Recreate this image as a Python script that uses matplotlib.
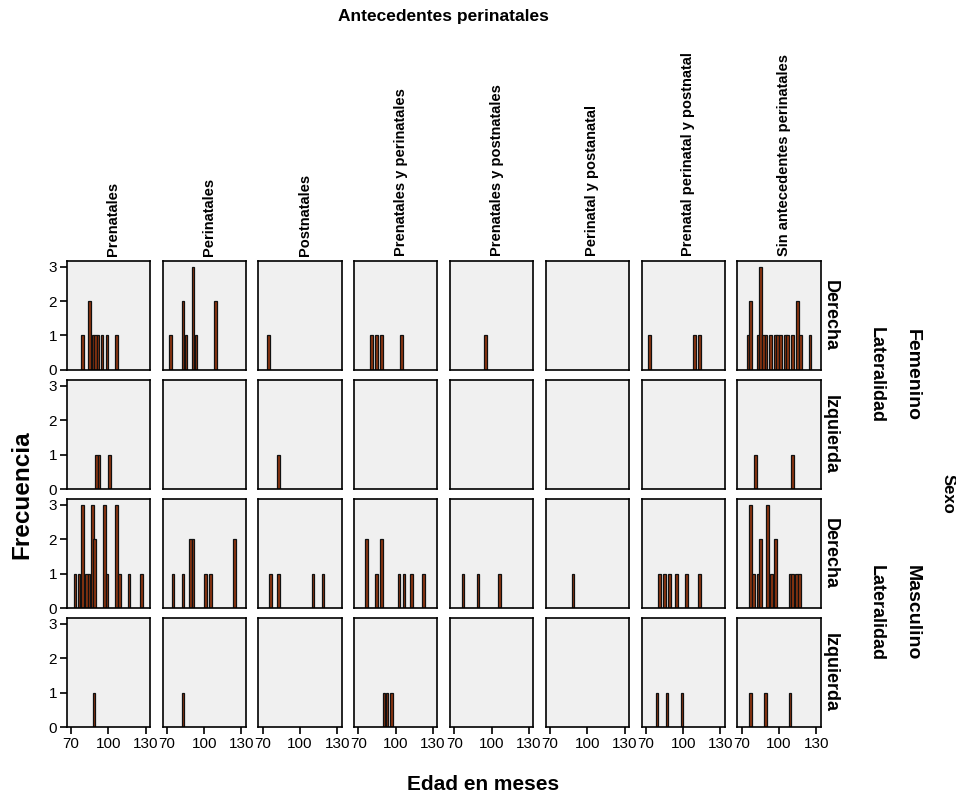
import numpy as np
import matplotlib
matplotlib.use("Agg")
import matplotlib.pyplot as plt

plt.rcParams['font.family'] = ['Liberation Sans', 'DejaVu Sans']

# column / row categories
antecedentes = ['Prenatales', 'Perinatales', 'Postnatales', 'Prenatales y perinatales',
                'Prenatales y postnatales', 'Perinatal y postanatal',
                'Prenatal perinatal y postnatal', 'Sin antecedentes perinatales']
lateralidad = ['Derecha', 'Izquierda']
sexo = ['Femenino', 'Masculino']

# edad (meses) de cada barra y su frecuencia, una lista por panel
fem_der_edad = [[79, 85, 87.5, 89.5, 91.5, 95, 99, 106.5],
                [73, 83, 85.5, 91, 93.5, 109],
                [74.5],
                [80.5, 84.5, 88.5, 104.5],
                [95],
                [],
                [73, 109, 113],
                [75, 77, 83, 85, 87.5, 89.5, 93, 97, 99, 101, 105, 107, 111, 115, 117.5, 125]]
fem_der_frec = [[1, 2, 1, 1, 1, 1, 1, 1],
                [1, 2, 1, 3, 1, 2],
                [1],
                [1, 1, 1, 1],
                [1],
                [],
                [1, 1, 1],
                [1, 2, 1, 3, 1, 1, 1, 1, 1, 1, 1, 1, 1, 2, 1, 1]]

fem_izq_edad = [[90.5, 92.5, 101], [], [82.5], [], [], [], [], [81, 111]]
fem_izq_frec = [[1, 1, 1], [], [1], [], [], [], [], [1, 1]]

mas_der_edad = [[73, 76.5, 79, 82.5, 84.5, 87, 89, 97, 99, 106.5, 109, 116.5, 126.5],
                [75, 83, 89, 91, 101, 105, 124.5],
                [76.5, 82.5, 110.5, 118.5],
                [76.5, 84.5, 88.5, 102.5, 106.5, 112.5, 122.5],
                [77, 89, 106.5],
                [88.5],
                [81, 85, 89, 94.5, 102.5, 113],
                [77, 79.5, 83, 85, 91, 94, 97, 109, 111, 114, 116.5]]
mas_der_frec = [[1, 1, 3, 1, 1, 3, 2, 3, 1, 3, 1, 1, 1],
                [1, 1, 2, 2, 1, 1, 2],
                [1, 1, 1, 1],
                [2, 1, 2, 1, 1, 1, 1],
                [1, 1, 1],
                [1],
                [1, 1, 1, 1, 1, 1],
                [3, 1, 1, 2, 3, 1, 2, 1, 1, 1, 1]]

mas_izq_edad = [[88.5], [83], [], [90.5, 93, 96.5], [], [], [79, 87, 99], [77, 89, 109]]
mas_izq_frec = [[1], [1], [], [1, 1, 1], [], [], [1, 1, 1], [1, 1, 1]]

filas_edad = [fem_der_edad, fem_izq_edad, mas_der_edad, mas_izq_edad]
filas_frec = [fem_der_frec, fem_izq_frec, mas_der_frec, mas_izq_frec]

x_ticks = [70, 100, 130]
y_ticks = [0, 1, 2, 3]

fig, axes = plt.subplots(4, 8, figsize=(9.56, 7.96), dpi=100,
                         gridspec_kw=dict(left=0.0698, right=0.8584, top=0.6725,
                                          bottom=0.0863, wspace=0.15, hspace=0.09))

for r in range(4):
    for c in range(8):
        ax = axes[r, c]
        ax.set_facecolor('#F0F0F0')
        ax.bar(filas_edad[r][c], filas_frec[r][c], width=2.1, color='#8E3510',
               edgecolor='#111111', linewidth=0.9)
        ax.set_xlim(66.5, 133.5)
        ax.set_ylim(0, 3.17)
        for s in ax.spines.values():
            s.set_linewidth(1.2)
            s.set_color('black')
        ax.set_xticks(x_ticks)
        ax.set_yticks(y_ticks)
        ax.tick_params(direction='out', length=5, width=1.2, labelsize=11, pad=2)
        if r < 3:
            ax.tick_params(axis='x', bottom=False, labelbottom=False)
        if c > 0:
            ax.tick_params(axis='y', left=False, labelleft=False)
        if r == 0:
            ax.text(0.56, 1.04, antecedentes[c], transform=ax.transAxes, rotation=90,
                    ha='center', va='bottom', fontsize=10.5, fontweight='bold')
        if c == 7:
            ax.text(1.12, 0.5, lateralidad[r % 2], transform=ax.transAxes, rotation=-90,
                    ha='center', va='center', fontsize=13, fontweight='bold')

# etiquetas de fila externas
for i, sx in enumerate(sexo):
    y_mid = 1 - (375 + i * 238) / 796
    fig.text(876 / 956, y_mid, 'Lateralidad', rotation=-90, ha='center', va='center',
             fontsize=13, fontweight='bold')
    fig.text(912 / 956, y_mid, sx, rotation=-90, ha='center', va='center',
             fontsize=14, fontweight='bold')
fig.text(948 / 956, 1 - 494 / 796, 'Sexo', rotation=-90, ha='center', va='center',
         fontsize=12, fontweight='bold')

fig.text(443 / 956, 1 - 16 / 796, 'Antecedentes perinatales', ha='center', va='center',
         fontsize=12.5, fontweight='bold')
fig.text(483 / 956, 1 - 785 / 796, 'Edad en meses', ha='center', va='center',
         fontsize=15, fontweight='bold')
fig.text(22 / 956, 1 - 495 / 796, 'Frecuencia', rotation=90, ha='center', va='center',
         fontsize=17.5, fontweight='bold')

fig.savefig('out.png', dpi=100)
